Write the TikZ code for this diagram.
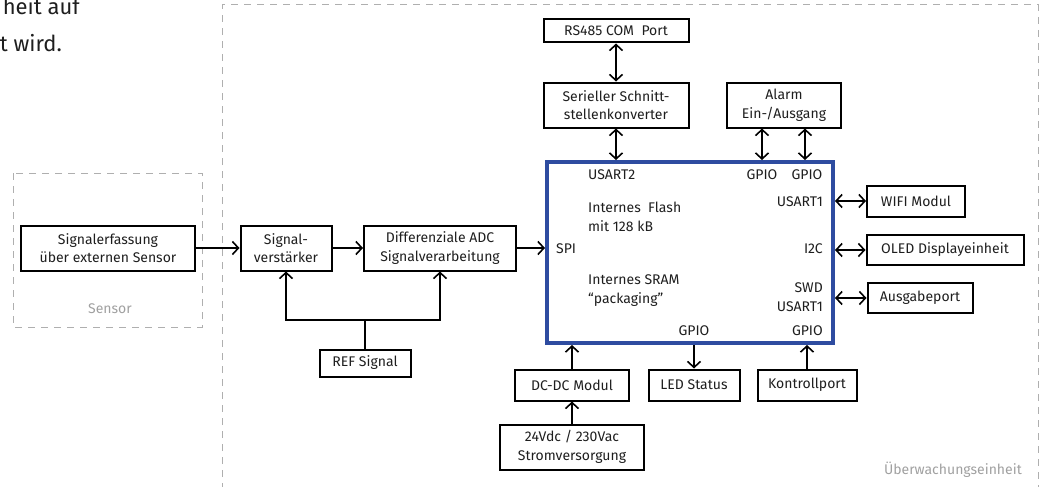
\documentclass[tikz,border=0pt]{standalone}
\usepackage{fontspec}
\setmainfont{Fira Sans}
\usetikzlibrary{arrows.meta}
\definecolor{mcublue}{RGB}{46,76,160}
\definecolor{framegray}{RGB}{175,175,175}
\definecolor{labelgray}{RGB}{160,160,160}
\definecolor{txt}{RGB}{30,30,30}
\tikzset{
  block/.style={draw=black, line width=2pt, align=center, inner sep=0pt,
    text=txt, font=\fontsize{14}{18.5}\selectfont},
  pin/.style={inner sep=0pt, text=txt, align=left, font=\fontsize{14}{19}\selectfont},
  link/.style={line width=1.6pt, -{Straight Barb[length=6pt,width=13pt,line width=1.6pt]}},
  dlink/.style={line width=1.6pt, {Straight Barb[length=6pt,width=13pt,line width=1.6pt]}-{Straight Barb[length=6pt,width=13pt,line width=1.6pt]}},
  frame/.style={draw=framegray, line width=1pt, dash pattern=on 7pt off 6pt},
  framelabel/.style={inner sep=0pt, text=labelgray, font=\fontsize{14}{16}\selectfont},
  bodytext/.style={inner sep=0pt, text=txt, font=\fontsize{22}{24}\selectfont}
}
\begin{document}
\begin{tikzpicture}[x=1pt,y=-1pt]
  \useasboundingbox (0,0) rectangle (1044,487);

  % text cut off from the page
  \node[bodytext, anchor=base east] (texta) at (80,15) {heit auf};
  \node[bodytext, anchor=base east] (textb) at (62,52) {t wird.};

  % dashed frames
  \draw[frame] (13,173) rectangle (202,327);
  \node[framelabel] (sensorlbl) at (110,309) {Sensor};
  \draw[frame] (222,490) -- (222,5) -- (1038,5) -- (1038,490);
  \node[framelabel, anchor=east] (uewlbl) at (1022,470) {Überwachungseinheit};

  % signal path
  \node[block, minimum width=174, minimum height=45] (sig) at (108,248) {Signalerfassung\\über externen Sensor};
  \node[block, minimum width=91, minimum height=45] (amp) at (286,248) {Signal-\\verstärker};
  \node[block, minimum width=152, minimum height=45] (adc) at (440,248) {Differenziale ADC\\Signalverarbeitung};
  \node[block, minimum width=91, minimum height=27] (ref) at (365,363) {REF Signal};
  \coordinate (refjoin) at (365,320);

  % controller
  \node[draw=mcublue, line width=4pt, inner sep=0pt, minimum width=286, minimum height=181] (mcu) at (690,252.5) {};
  \node[pin, anchor=west] (usart2) at (588,175) {USART2};
  \node[pin] (gpioa) at (762,175) {GPIO};
  \node[pin] (gpiob) at (807,175) {GPIO};
  \node[pin, anchor=east] (usart1) at (823,202) {USART1};
  \node[pin, anchor=west] (flash) at (588,217) {Internes\ \ Flash\\mit 128 kB};
  \node[pin, anchor=west] (spi) at (556,249) {SPI};
  \node[pin, anchor=east] (itc) at (823,249) {I2C};
  \node[pin, anchor=west] (sram) at (588,291) {Internes SRAM\\“packaging”};
  \node[pin, anchor=east, align=right] (swd) at (823,297) {SWD\\USART1};
  \node[pin] (gpioc) at (694,331) {GPIO};
  \node[pin, anchor=east] (gpiod) at (823,331) {GPIO};

  % top
  \node[block, minimum width=145, minimum height=23] (rs) at (616,31) {RS485 COM\ \ Port};
  \node[block, minimum width=145, minimum height=45] (conv) at (616,105) {Serieller Schnitt-\\stellenkonverter};
  \node[block, minimum width=114, minimum height=45] (alarm) at (784,105) {Alarm\\Ein-/Ausgang};

  % right
  \node[block, minimum width=98, minimum height=31] (wifi) at (916,201) {WIFI Modul};
  \node[block, minimum width=157, minimum height=30] (oled) at (945,250) {OLED Displayeinheit};
  \node[block, minimum width=105, minimum height=30] (outp) at (920,298) {Ausgabeport};

  % bottom
  \node[block, minimum width=114, minimum height=31] (dcdc) at (572,385) {DC-DC Modul};
  \node[block, minimum width=91, minimum height=31] (led) at (694,385) {LED Status};
  \node[block, minimum width=99, minimum height=31] (ctrl) at (807,385) {Kontrollport};
  \node[block, minimum width=144, minimum height=45] (pwr) at (572,447) {24Vdc / 230Vac\\Stromversorgung};

  % connections
  \draw[link] (sig) -- (amp);
  \draw[link] (amp) -- (adc);
  \draw[link] (adc.east) -- (adc.east -| mcu.west);
  \draw[line width=1.6pt] (ref) -- (refjoin);
  \draw[link] (refjoin) -| (amp);
  \draw[link] (refjoin) -| (adc);

  \draw[dlink] (rs) -- (conv);
  \draw[dlink] (conv) -- (conv.south |- mcu.north);
  \draw[dlink] (gpioa.north |- alarm.south) -- (gpioa.north |- mcu.north);
  \draw[dlink] ([xshift=-2pt]gpiob.north |- alarm.south) -- ([xshift=-2pt]gpiob.north |- mcu.north);

  \draw[dlink] (mcu.east |- wifi) -- (wifi);
  \draw[dlink] (mcu.east |- oled) -- (oled);
  \draw[dlink] (mcu.east |- outp) -- (outp);

  \draw[link] (dcdc) -- (dcdc |- mcu.south);
  \draw[link] (mcu.south -| led) -- (led);
  \draw[link] (ctrl) -- (ctrl |- mcu.south);
  \draw[link] (pwr) -- (dcdc);
\end{tikzpicture}
\end{document}
